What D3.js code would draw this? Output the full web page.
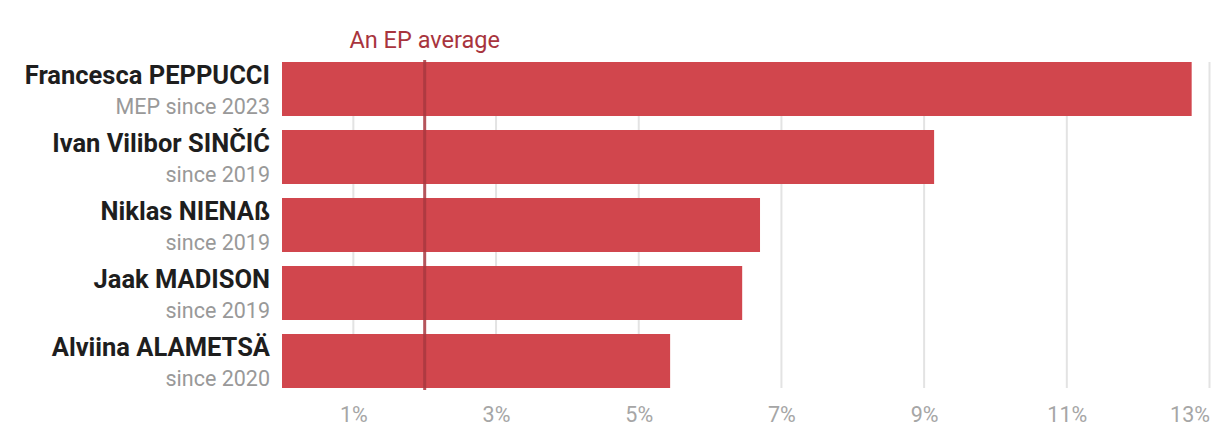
<!DOCTYPE html>
<html><head><meta charset="utf-8">
<script src="https://cdn.jsdelivr.net/npm/d3@7"></script>
<style>body{margin:0;background:#fff;font-family:Roboto,sans-serif;}</style>
</head><body><svg id="c" width="1220" height="440"></svg>
<script>
const names = ["Francesca PEPPUCCI","Ivan Vilibor SINČIĆ","Niklas NIENAß","Jaak MADISON","Alviina ALAMETSÄ"];
const subtitles = ["MEP since 2023","since 2019","since 2019","since 2019","since 2020"];
const values = [12.75, 9.14, 6.70, 6.45, 5.44];
const average = 2;
const averageLabel = "An EP average";
const ticks = [1,3,5,7,9,11,13];

const svg = d3.select("#c");
const x = d3.scaleLinear().domain([0,13]).range([282,1209.5]);
const y = d3.scaleBand().domain(names).range([62,388]).paddingInner(14/68).paddingOuter(0);

// gridlines
svg.append("g").selectAll("line").data(ticks).join("line")
  .attr("x1",d=>x(d)).attr("x2",d=>x(d)).attr("y1",62).attr("y2",388)
  .attr("stroke","#e3e3e3").attr("stroke-width",2);

// bars
svg.append("g").selectAll("rect").data(values).join("rect")
  .attr("x",x(0)).attr("y",(d,i)=>y(names[i])).attr("width",d=>x(d)-x(0)).attr("height",y.bandwidth())
  .attr("fill","#d1464d");

// average line
svg.append("line").attr("x1",x(average)).attr("x2",x(average)).attr("y1",60).attr("y2",390)
  .attr("stroke","#a93840").attr("stroke-width",3).attr("opacity",0.85);
svg.append("text").attr("x",x(average)).attr("y",48).attr("text-anchor","middle")
  .attr("font-size",23.5).attr("fill","#a8343d").text(averageLabel);

// labels
const lg = svg.append("g");
lg.selectAll("text.n").data(names).join("text").attr("class","n")
  .attr("x",270).attr("y",d=>y(d)+22).attr("text-anchor","end")
  .attr("font-size",25.5).attr("font-weight",700).attr("fill","#1e1e1e").text(d=>d);
lg.selectAll("text.s").data(subtitles).join("text").attr("class","s")
  .attr("x",270).attr("y",(d,i)=>y(names[i])+52).attr("text-anchor","end")
  .attr("font-size",21.5).attr("fill","#999").text(d=>d);

// axis
const ax = svg.append("g").attr("transform","translate(0,400)")
  .call(d3.axisBottom(x).tickValues(ticks).tickFormat(d=>d+"%").tickSize(0).tickPadding(0));
ax.select(".domain").remove();
ax.selectAll("text").attr("font-size",21.5).attr("font-family","Roboto").attr("fill","#a6a6a6").attr("dy","21.5px");
ax.selectAll(".tick").filter(d=>d===ticks[ticks.length-1]).select("text").attr("text-anchor","end");
</script></body></html>
